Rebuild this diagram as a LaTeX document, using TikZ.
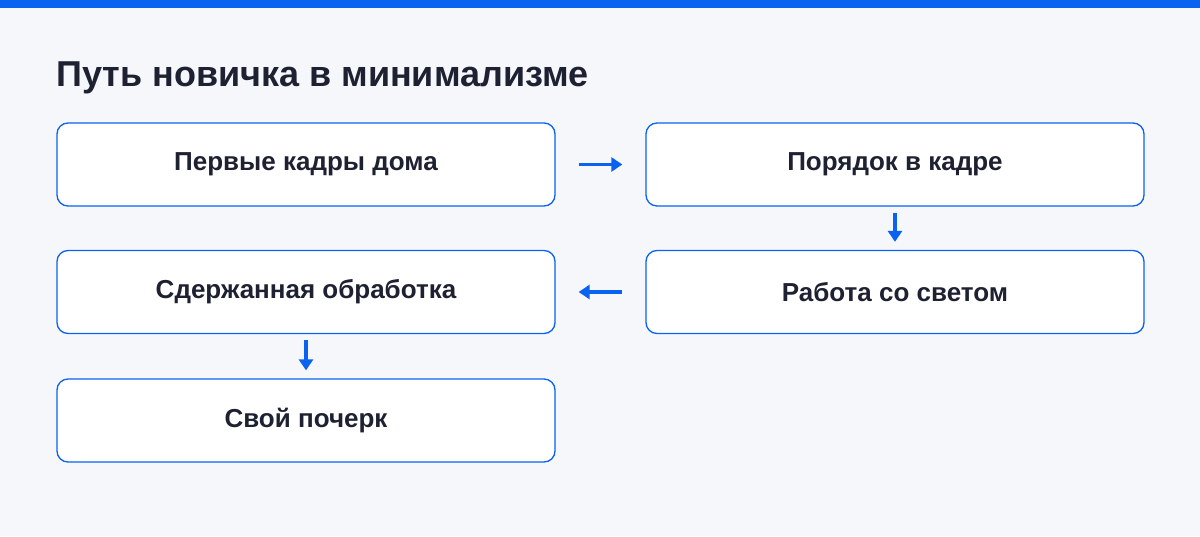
\documentclass[tikz,border=0pt]{standalone}
\usepackage{fontspec}
\setmainfont{Liberation Sans}
\usetikzlibrary{arrows.meta}
\definecolor{accent}{HTML}{0A62F0}
\definecolor{ink}{HTML}{1E2131}
\definecolor{paper}{HTML}{F5F7FB}
\begin{document}
\begin{tikzpicture}[x=1pt, y=-1pt,
  stage/.style = {rectangle, draw=accent, line width=1.3pt, fill=white, rounded corners=11pt,
                 minimum width=498pt, minimum height=83pt, font=\fontsize{26}{30}\selectfont\bfseries, text=ink},
  flow/.style = {draw=accent, line width=3.4pt, -{Triangle[length=11pt, width=14pt]}}]
  % Background and top bar.
  \fill [paper] (0, 0) rectangle (1200, 536);
  \fill [accent] (0, 0) rectangle (1200, 8);
  \node at (56, 78) [anchor=west, inner sep=0pt, font=\fontsize{36}{40}\selectfont\bfseries, text=ink, name=Title] {Путь новичка в минимализме};

  % Stages.
  \node at (306, 164.5) [stage, name=FirstShots] {Первые кадры дома};
  \node at (895, 164.5) [stage, name=Order] {Порядок в кадре};
  \node at (895, 292) [stage, name=Light] {Работа со светом};
  \node at (306, 292) [stage, name=Editing] {Сдержанная обработка};
  \node at (306, 420.5) [stage, name=Style] {Свой почерк};

  % Transitions.
  \draw [flow, shorten <=23pt, shorten >=23pt] (FirstShots) -- (Order);
  \draw [flow, shorten <=6pt, shorten >=8pt] (Order) -- (Light);
  \draw [flow, shorten <=23pt, shorten >=23pt] (Light) -- (Editing);
  \draw [flow, shorten <=6pt, shorten >=8pt] (Editing) -- (Style);
\end{tikzpicture}
\end{document}
